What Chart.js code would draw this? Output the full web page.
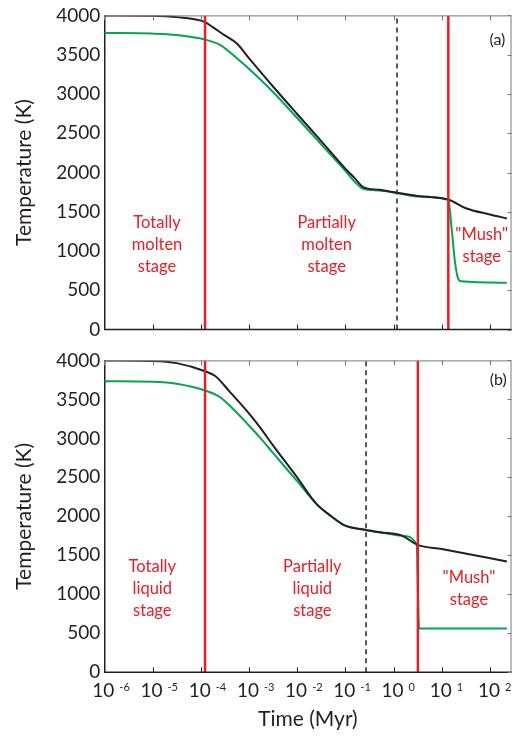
<!DOCTYPE html>
<html>
<head>
<meta charset="utf-8">
<script src="https://cdn.jsdelivr.net/npm/chart.js@4.4.1/dist/chart.umd.min.js"></script>
<style>
  html, body { margin: 0; padding: 0; background: #fff; }
  .panel { position: absolute; left: 0; width: 513px; }
  #wrapA { top: 0; height: 345px; }
  #wrapB { top: 345px; height: 393px; }
</style>
</head>
<body>
<div class="panel" id="wrapA"><canvas id="chartA" width="513" height="345"></canvas></div>
<div class="panel" id="wrapB"><canvas id="chartB" width="513" height="393"></canvas></div>
<script>
// ---- data (time in Myr, temperature in K) ----
const timeBlackA = [1e-6, 1e-5, 3.16e-5, 1.23e-4, 1.78e-4, 3.16e-4, 5.62e-4, 1e-3, 3.16e-3, 0.01, 0.0316, 0.1, 0.158, 0.234, 0.501, 1.17, 3.16, 13.7, 31.6, 100, 224];
const tempBlackA = [4000, 3995, 3978, 3915, 3850, 3745, 3641, 3457, 3095, 2745, 2400, 2050, 1925, 1815, 1780, 1743, 1700, 1656, 1545, 1466, 1415];

const timeGreenA = [1e-6, 1e-5, 3.16e-5, 1.23e-4, 2.51e-4, 5.62e-4, 1e-3, 3.16e-3, 0.01, 0.0316, 0.1, 0.158, 0.234, 0.501, 1.17, 3.16, 13.7, 16.1, 18.9, 22.1, 25.1, 224];
const tempGreenA = [3776, 3768, 3750, 3692, 3625, 3455, 3320, 3025, 2694, 2358, 2022, 1880, 1791, 1770, 1738, 1695, 1650, 1276, 854, 642, 615, 597];

const timeBlackB = [1e-6, 1e-5, 3.16e-5, 1.23e-4, 2.0e-4, 3.98e-4, 1e-3, 1.7e-3, 3.16e-3, 0.01, 0.0251, 0.0501, 0.1, 0.269, 0.525, 1.48, 3.16, 10, 224];
const tempBlackB = [4000, 3992, 3965, 3861, 3800, 3600, 3320, 3140, 2910, 2500, 2160, 2005, 1880, 1826, 1796, 1753, 1635, 1580, 1421];

const timeGreenB = [1e-6, 1e-5, 3.16e-5, 1.23e-4, 2.51e-4, 5.0e-4, 1e-3, 1.7e-3, 3.16e-3, 0.01, 0.0251, 0.0501, 0.1, 0.269, 0.525, 1.48, 3.02, 3.39, 224];
const tempGreenB = [3733, 3725, 3700, 3614, 3530, 3360, 3165, 3009, 2813, 2452, 2160, 2005, 1880, 1826, 1796, 1753, 1640, 562, 562];

// stage boundaries (red) and dashed marker (black), in Myr
const stageLinesA = [1.23e-4, 13.7];
const dashedLineA = 1.18;
const stageLinesB = [1.23e-4, 3.2];
const dashedLineB = 0.269;

const decadeExps = [-6, -5, -4, -3, -2, -1, 0, 1, 2];
const tempMin = 0, tempMax = 4000, tempStep = 500;
const timeMin = 1e-6, timeMax = 280;

const RED = '#ed1c24', GREEN = '#00a651', INK = '#231f20';
const FONT = 'Lato, "Open Sans", sans-serif';

function curve(times, temps, color, order) {
    return {
        data: times.map((t, i) => ({ x: t, y: temps[i] })),
        borderColor: color,
        borderWidth: 2,
        pointRadius: 0,
        cubicInterpolationMode: 'monotone',
        order: order
    };
}

function vline(t, color, width, dash, order) {
    return {
        data: [{ x: t, y: tempMin }, { x: t, y: tempMax }],
        borderColor: color,
        borderWidth: width,
        borderDash: dash,
        pointRadius: 0,
        order: order
    };
}

// frame, inward ticks, stage labels and the log tick labels
const decor = {
    id: 'decor',
    afterDatasetsDraw(chart, args, opts) {
        const { ctx, chartArea: a, scales: { x, y } } = chart;
        ctx.save();

        // top + right frame
        ctx.strokeStyle = '#77787b';
        ctx.lineWidth = 1;
        ctx.beginPath();
        ctx.moveTo(a.left, a.top + 0.5);
        ctx.lineTo(a.right - 0.5, a.top + 0.5);
        ctx.lineTo(a.right - 0.5, a.bottom);
        ctx.stroke();

        // bottom axis
        ctx.strokeStyle = INK;
        ctx.lineWidth = 1.5;
        ctx.beginPath();
        ctx.moveTo(a.left, a.bottom);
        ctx.lineTo(a.right, a.bottom);
        ctx.stroke();

        // decade ticks, bottom and top
        ctx.lineWidth = 1;
        decadeExps.forEach(e => {
            const px = Math.round(x.getPixelForValue(Math.pow(10, e))) + 0.5;
            ctx.strokeStyle = INK;
            ctx.beginPath(); ctx.moveTo(px, a.bottom); ctx.lineTo(px, a.bottom - 5); ctx.stroke();
            ctx.strokeStyle = '#77787b';
            ctx.beginPath(); ctx.moveTo(px, a.top); ctx.lineTo(px, a.top + 5); ctx.stroke();
        });

        // right side ticks
        ctx.strokeStyle = '#77787b';
        for (let v = tempMin; v <= tempMax; v += tempStep) {
            const py = Math.round(y.getPixelForValue(v)) + 0.5;
            ctx.beginPath(); ctx.moveTo(a.right, py); ctx.lineTo(a.right - 4, py); ctx.stroke();
        }

        // stage labels
        ctx.fillStyle = RED;
        ctx.font = '16.5px ' + FONT;
        ctx.textAlign = 'center';
        ctx.textBaseline = 'middle';
        opts.labels.forEach(l => {
            const cx = x.getPixelForValue(l.t);
            const cy = y.getPixelForValue(l.T);
            const n = l.lines.length;
            l.lines.forEach((s, i) => ctx.fillText(s, cx, cy + (i - (n - 1) / 2) * 22));
        });

        // panel letter
        ctx.fillStyle = INK;
        ctx.font = '16px ' + FONT;
        ctx.fillText(opts.letter.text, x.getPixelForValue(opts.letter.t), y.getPixelForValue(opts.letter.T));

        // x tick labels 10^n and title
        if (opts.xLabels) {
            ctx.textBaseline = 'alphabetic';
            decadeExps.forEach(e => {
                const px = x.getPixelForValue(Math.pow(10, e));
                ctx.font = '19px ' + FONT;
                ctx.textAlign = 'center';
                const w = ctx.measureText('10').width;
                ctx.fillText('10', px - 1, a.bottom + 25);
                ctx.font = '11px ' + FONT;
                ctx.textAlign = 'left';
                ctx.fillText(String(e), px - 1 + w / 2 + 5, a.bottom + 18.5);
            });
            ctx.font = '21px ' + FONT;
            ctx.textAlign = 'center';
            ctx.fillText('Time (Myr)', (a.left + a.right) / 2, a.bottom + 54);
        }
        ctx.restore();
    }
};

function makeChart(id, datasets, pad, decorOpts) {
    return new Chart(document.getElementById(id), {
        type: 'line',
        data: { datasets: datasets },
        plugins: [decor],
        options: {
            responsive: false,
            animation: false,
            devicePixelRatio: 1,
            layout: { padding: pad },
            plugins: {
                legend: { display: false },
                tooltip: { enabled: false },
                decor: decorOpts
            },
            scales: {
                x: { type: 'logarithmic', min: timeMin, max: timeMax, display: false },
                y: {
                    type: 'linear', min: tempMin, max: tempMax,
                    ticks: { stepSize: tempStep, color: INK, padding: 4, font: { family: FONT, size: 19 },
                             callback: v => String(v) },
                    grid: { drawOnChartArea: false, drawTicks: false },
                    border: { display: true, color: INK, width: 1.5 },
                    title: { display: true, text: 'Temperature (K)', color: INK, font: { family: FONT, size: 21 }, padding: { top: 12, bottom: 0 } },
                    afterFit(s) { s.width = 104.3; }
                }
            }
        }
    });
}

makeChart('chartA', [
    vline(stageLinesA[0], RED, 2.5, [], 0),
    vline(stageLinesA[1], RED, 2.5, [], 0),
    curve(timeBlackA, tempBlackA, INK, 1),
    curve(timeGreenA, tempGreenA, GREEN, 2),
    vline(dashedLineA, INK, 1.5, [5, 4], 3)
], { left: 0, right: 1.5, top: 15, bottom: 14.3 }, {
    labels: [
        { lines: ['Totally', 'molten', 'stage'], t: 1.24e-5, T: 1086 },
        { lines: ['Partially', 'molten', 'stage'], t: 0.041, T: 1086 },
        { lines: ['"Mush"', 'stage'], t: 67.6, T: 1069 }
    ],
    letter: { text: '(a)', t: 143, T: 3683 },
    xLabels: false
});

makeChart('chartB', [
    vline(stageLinesB[0], RED, 2.5, [], 0),
    vline(stageLinesB[1], RED, 2.5, [], 0),
    curve(timeBlackB, tempBlackB, INK, 1),
    curve(timeGreenB, tempGreenB, GREEN, 2),
    vline(dashedLineB, INK, 1.5, [5, 4], 3)
], { left: 0, right: 1.5, top: 14, bottom: 65.7 }, {
    labels: [
        { lines: ['Totally', 'liquid', 'stage'], t: 9.9e-6, T: 1077 },
        { lines: ['Partially', 'liquid', 'stage'], t: 0.0207, T: 1077 },
        { lines: ['"Mush"', 'stage'], t: 36.8, T: 1070 }
    ],
    letter: { text: '(b)', t: 148, T: 3746 },
    xLabels: true
});
</script>
</body>
</html>
